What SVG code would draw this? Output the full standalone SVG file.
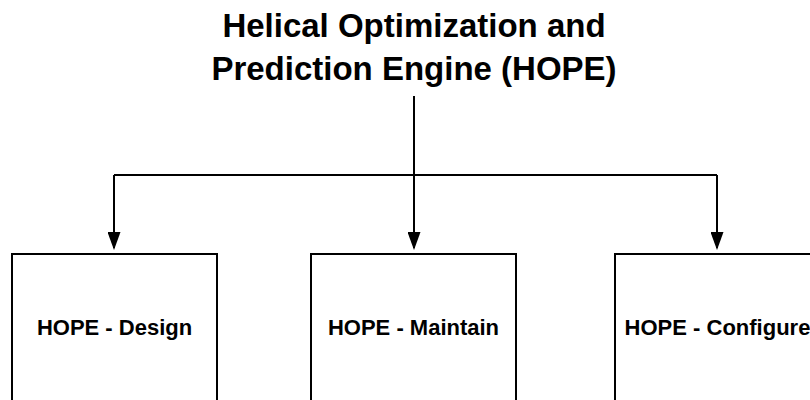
<svg xmlns="http://www.w3.org/2000/svg" width="810" height="400" viewBox="0 0 810 400">
  <defs>
    <marker id="arrow" markerWidth="18" markerHeight="13" refX="16" refY="6.5" viewBox="0 0 18 13" orient="auto" markerUnits="userSpaceOnUse">
      <path d="M0,0 L18,6.5 L0,13 Z" fill="#000"/>
    </marker>
    <style>
      .box { fill: #fff; stroke: #000; stroke-width: 2; }
      .lbl { font-family: "Liberation Sans", Arial, sans-serif; font-weight: bold; font-size: 22px; fill: #000; text-anchor: middle; }
      .title { font-family: "Liberation Sans", Arial, sans-serif; font-weight: bold; font-size: 33px; fill: #000; text-anchor: middle; }
      .wire { fill: none; stroke: #000; stroke-width: 2; }
    </style>
  </defs>
  <rect width="810" height="400" fill="#fff"/>

  <g id="root">
    <text class="title" x="414" y="36.5">Helical Optimization and</text>
    <text class="title" x="414" y="80">Prediction Engine (HOPE)</text>
  </g>

  <g id="connectors">
    <path class="wire" d="M414,96 V175"/>
    <path class="wire" d="M114,175 H717"/>
    <path class="wire" d="M114,175 V248" marker-end="url(#arrow)"/>
    <path class="wire" d="M414,175 V248" marker-end="url(#arrow)"/>
    <path class="wire" d="M717,175 V248" marker-end="url(#arrow)"/>
  </g>

  <g id="design">
    <rect class="box" x="12" y="254" width="205" height="200"/>
    <text class="lbl" x="114.5" y="334.5">HOPE - Design</text>
  </g>

  <g id="maintain">
    <rect class="box" x="311" y="254" width="205" height="200"/>
    <text class="lbl" x="413.5" y="334.5">HOPE - Maintain</text>
  </g>

  <g id="configure">
    <rect class="box" x="615" y="254" width="205" height="200"/>
    <text class="lbl" x="717.5" y="334.5">HOPE - Configure</text>
  </g>
</svg>
